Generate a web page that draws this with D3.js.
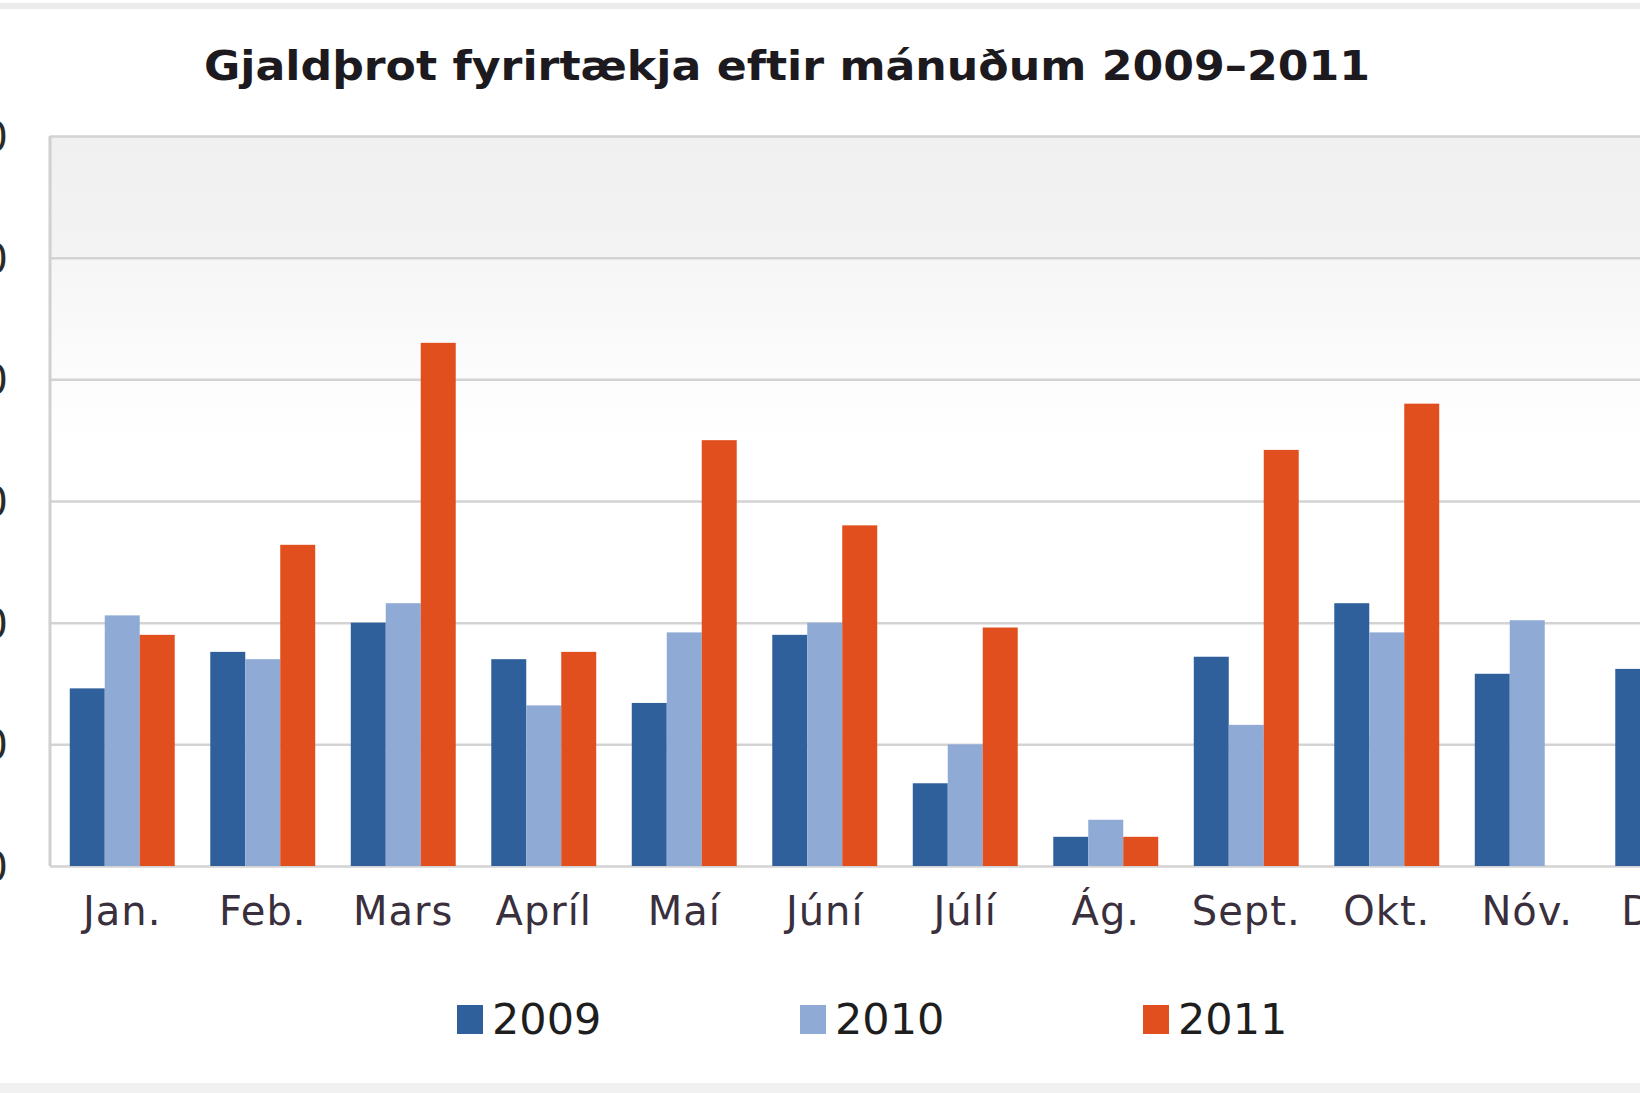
<!DOCTYPE html>
<html>
<head>
<meta charset="utf-8">
<script src="https://cdn.jsdelivr.net/npm/d3@7"></script>
<style>
  html, body { margin: 0; padding: 0; background: #fff; }
  svg { display: block; }
</style>
</head>
<body>
<svg id="chart" width="1640" height="1093"></svg>
<script>
const title = "Gjaldþrot fyrirtækja eftir mánuðum 2009–2011";
const months = ["Jan.", "Feb.", "Mars", "Apríl", "Maí", "Júní", "Júlí", "Ág.", "Sept.", "Okt.", "Nóv.", "Des."];
const seriesNames = ["2009", "2010", "2011"];
const values2009 = [73, 88, 100, 85, 67, 95, 34, 12, 86, 108, 79, 81];
const values2010 = [103, 85, 108, 66, 96, 100, 50, 19, 58, 96, 101, null];
const values2011 = [95, 132, 215, 88, 175, 140, 98, 12, 171, 190, null, null];
const yTicks = [0, 50, 100, 150, 200, 250, 300];
const colors = ["#30609b", "#8faad5", "#e24f1e"];

const seriesValues = [values2009, values2010, values2011];

const W = 1640, H = 1093;
const plot = { left: 50, top: 136, bottom: 866, catStart: 52, step: 140.5 };

const svg = d3.select("#chart");

// frame bands
svg.append("rect").attr("x", 0).attr("y", 3).attr("width", W).attr("height", 6).attr("fill", "#ebebeb");
svg.append("rect").attr("x", 0).attr("y", 1083).attr("width", W).attr("height", 10).attr("fill", "#f1f1f1");

// gradient for plot background
const defs = svg.append("defs");
const grad = defs.append("linearGradient").attr("id", "bg").attr("x1", 0).attr("y1", 0).attr("x2", 0).attr("y2", 1);
[[0, "#f0f0f0"], [0.16, "#f3f3f3"], [0.17, "#f6f6f6"], [0.33, "#fcfcfc"], [0.42, "#ffffff"], [1, "#ffffff"]]
  .forEach(([o, c]) => grad.append("stop").attr("offset", o).attr("stop-color", c));

const x0 = d3.scaleBand()
  .domain(months)
  .range([plot.catStart, plot.catStart + plot.step * months.length])
  .paddingInner(0.253)
  .paddingOuter(0.1265);

const x1 = d3.scaleBand().domain(seriesNames).range([0, x0.bandwidth()]).padding(0);

const y = d3.scaleLinear().domain([0, 300]).range([plot.bottom, plot.top]);

const plotRight = plot.catStart + plot.step * months.length;

svg.append("rect")
  .attr("x", plot.left).attr("y", plot.top)
  .attr("width", plotRight - plot.left).attr("height", plot.bottom - plot.top)
  .attr("fill", "url(#bg)");

// gridlines
const yAxis = d3.axisLeft(y).tickValues(yTicks).tickSize(-(plotRight - plot.left)).tickFormat(d3.format("d"));
const gy = svg.append("g").attr("transform", `translate(${plot.left},0)`).call(yAxis);
gy.select(".domain").remove();
gy.selectAll(".tick line").attr("stroke", "#d3d3d3").attr("stroke-width", 2.5);
gy.selectAll(".tick text")
  .attr("x", 8 - plot.left)
  .attr("text-anchor", "end")
  .attr("dy", "0.36em")
  .attr("font-family", "DejaVu Sans, Verdana, sans-serif")
  .attr("font-size", 40)
  .attr("fill", "#2a2a2a");

// left border
svg.append("line")
  .attr("x1", plot.left).attr("x2", plot.left)
  .attr("y1", plot.top).attr("y2", plot.bottom)
  .attr("stroke", "#d0d0d0").attr("stroke-width", 3);

// bars
const groups = svg.append("g").selectAll("g")
  .data(months)
  .join("g")
  .attr("transform", d => `translate(${x0(d)},0)`);

groups.selectAll("rect")
  .data((m, i) => seriesNames.map((s, j) => ({ s, j, v: seriesValues[j][i] })).filter(d => d.v != null))
  .join("rect")
  .attr("x", d => x1(d.s))
  .attr("width", x1.bandwidth())
  .attr("y", d => y(d.v))
  .attr("height", d => y(0) - y(d.v))
  .attr("fill", d => colors[d.j]);

// category axis labels
const xAxis = d3.axisBottom(x0).tickSize(0).tickPadding(0);
const gx = svg.append("g").attr("transform", `translate(0,${plot.bottom})`).call(xAxis);
gx.select(".domain").remove();
gx.selectAll(".tick text")
  .attr("y", 59)
  .attr("dy", 0)
  .attr("font-family", "DejaVu Sans, Verdana, sans-serif")
  .attr("font-size", 40)
  .attr("letter-spacing", 1)
  .attr("fill", "#3a2f3d");

// title
svg.append("text")
  .attr("x", 787).attr("y", 80)
  .attr("text-anchor", "middle")
  .attr("font-family", "DejaVu Sans, Verdana, sans-serif")
  .attr("font-weight", "bold")
  .attr("font-size", 41)
  .attr("textLength", 1166)
  .attr("lengthAdjust", "spacingAndGlyphs")
  .attr("fill", "#1c1a1e")
  .text(title);

// legend
const lx = d3.scalePoint().domain(seriesNames).range([457, 1143]);
const leg = svg.append("g").selectAll("g").data(seriesNames).join("g")
  .attr("transform", d => `translate(${lx(d)},0)`);
leg.append("rect").attr("x", 0).attr("y", 1005).attr("width", 26).attr("height", 29)
  .attr("fill", (d, i) => colors[i]);
leg.append("text").attr("x", 35).attr("y", 1034)
  .attr("font-family", "DejaVu Sans, Verdana, sans-serif")
  .attr("font-size", 43)
  .attr("fill", "#1e1e1e")
  .text(d => d);
</script>
</body>
</html>
